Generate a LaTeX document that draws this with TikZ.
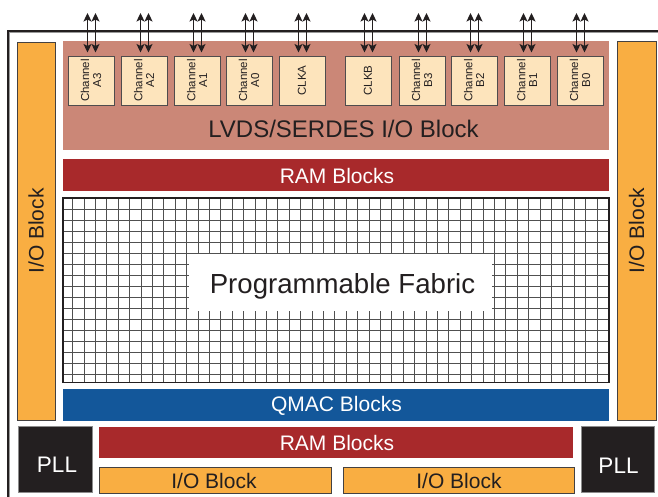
\documentclass[tikz,border=0pt]{standalone}
\usepackage{fontspec}
\setmainfont{Liberation Sans}
\usetikzlibrary{arrows.meta}

\definecolor{ioorange}{HTML}{F9AE42}
\definecolor{lvdsbrown}{HTML}{CB8777}
\definecolor{chanpeach}{HTML}{FDE4BC}
\definecolor{ramred}{HTML}{A8292B}
\definecolor{qmacblue}{HTML}{13579A}
\definecolor{plldark}{HTML}{231F20}
\definecolor{inkdark}{HTML}{231F20}
\definecolor{gridgray}{HTML}{505050}

\tikzset{
  block/.style={draw=none, inner sep=0pt, outer sep=0pt},
  iobox/.style={block, fill=ioorange, draw=inkdark!85, line width=0.9pt},
  bar/.style={block, fill=#1},
  chanbox/.style={block, fill=chanpeach, draw=inkdark!80, line width=0.8pt,
    minimum width=46, minimum height=49},
  pllbox/.style={block, fill=plldark, draw=black!45, line width=0.8pt,
    minimum width=74, minimum height=66},
  chantext/.style={inner sep=0pt, rotate=90, align=center, text=inkdark,
    font=\fontsize{11.5}{11.8}\selectfont},
  whitetext/.style={inner sep=0pt, text=white, font=\fontsize{21}{24}\selectfont},
  darktext/.style={inner sep=0pt, text=inkdark, font=\fontsize{21}{24}\selectfont},
  biarrow/.style={line width=1.4pt, draw=inkdark,
    {Stealth[length=8.5pt,width=8pt,inset=2pt]}-{Stealth[length=8.5pt,width=8pt,inset=2pt]}},
}

\begin{document}
\begin{tikzpicture}[x=1pt,y=-1pt]
\useasboundingbox[fill=white] (0,0) rectangle (658,497);

% chip outline (open towards the right and bottom edges)
\draw[black!40, line width=1pt] (9.9,497) -- (9.9,32.9) -- (658,32.9);
\draw[inkdark, line width=1.6pt] (8,497) -- (8,31) -- (658,31);

% side I/O blocks
\node[iobox, minimum width=38, minimum height=378] (iol) at (36,231) {};
\node[darktext, rotate=90] (iolt) at (iol.center) {I/O Block};
\node[iobox, minimum width=39, minimum height=379] (ior) at (636.5,230.5) {};
\node[darktext, rotate=90] (iort) at (ior.center) {I/O Block};

% LVDS / SERDES block with its channels
\node[bar=lvdsbrown, minimum width=546, minimum height=109] (lvds) at (336,95.5) {};
\node[darktext, font=\fontsize{24}{26}\selectfont] (lvdst) at (343.5,129) {LVDS/SERDES I/O Block};

\foreach \cx/\lab [count=\k] in {91/{Channel\\A3}, 144/{Channel\\A2}, 197/{Channel\\A1},
    249/{Channel\\A0}, 302/{CLKA}, 368/{CLKB}, 422/{Channel\\B3}, 474/{Channel\\B2},
    527/{Channel\\B1}, 580/{Channel\\B0}} {
  \node[chanbox] (ch\k) at (\cx,80.5) {};
  \node[chantext] (cht\k) at (ch\k.center) {\lab};
  \coordinate (pin\k) at (\cx+0.5,13);
  \draw[biarrow] ([xshift=-4pt]pin\k) -- ([xshift=-3.5pt,yshift=3.5pt]ch\k.north);
  \draw[biarrow] ([xshift=4pt]pin\k) -- ([xshift=4.5pt,yshift=3.5pt]ch\k.north);
}

% upper RAM row
\node[bar=ramred, minimum width=546, minimum height=32] (ramtop) at (336,175) {};
\node[whitetext] (ramtopt) at (337,175.5) {RAM Blocks};

% programmable fabric grid
\node[block, minimum width=546, minimum height=184.5] (fabric) at (336,290.25) {};
\begin{scope}[gridgray, line width=0.95pt]
  \foreach \k in {0,...,46} \draw (72.7+11.4*\k,198) -- (72.7+11.4*\k,382.5);
  \foreach \k in {1,...,16} \draw (63,198+11*\k) -- (609,198+11*\k);
\end{scope}
\draw[inkdark, line width=1.1pt] (fabric.north west) rectangle (fabric.south east);
\node[block, fill=white, minimum width=303, minimum height=57] (fabricbox) at (340.5,282.5) {};
\node[darktext, font=\fontsize{27.6}{30}\selectfont] (fabrict) at (342.5,286) {Programmable Fabric};

% QMAC row
\node[bar=qmacblue, minimum width=546, minimum height=32] (qmac) at (336,405) {};
\node[whitetext] (qmact) at (336.5,405.5) {QMAC Blocks};

% PLLs
\node[pllbox] (plll) at (55,459) {};
\node[whitetext, font=\fontsize{22.5}{24}\selectfont] (plllt) at (57,465) {PLL};
\node[pllbox, minimum width=73] (pllr) at (617.5,459) {};
\node[whitetext, font=\fontsize{22.5}{24}\selectfont] (pllrt) at (618.5,466) {PLL};

% lower RAM row and bottom I/O blocks
\node[bar=ramred, minimum width=474, minimum height=31] (rambot) at (336,442.5) {};
\node[whitetext] (rambott) at (337,443) {RAM Blocks};
\node[iobox, minimum width=232, minimum height=26] (iobl) at (215,480) {};
\node[darktext] (ioblt) at (214,480.5) {I/O Block};
\node[iobox, minimum width=231, minimum height=26] (iobr) at (458.5,480) {};
\node[darktext] (iobrt) at (459,480.5) {I/O Block};
\end{tikzpicture}
\end{document}
